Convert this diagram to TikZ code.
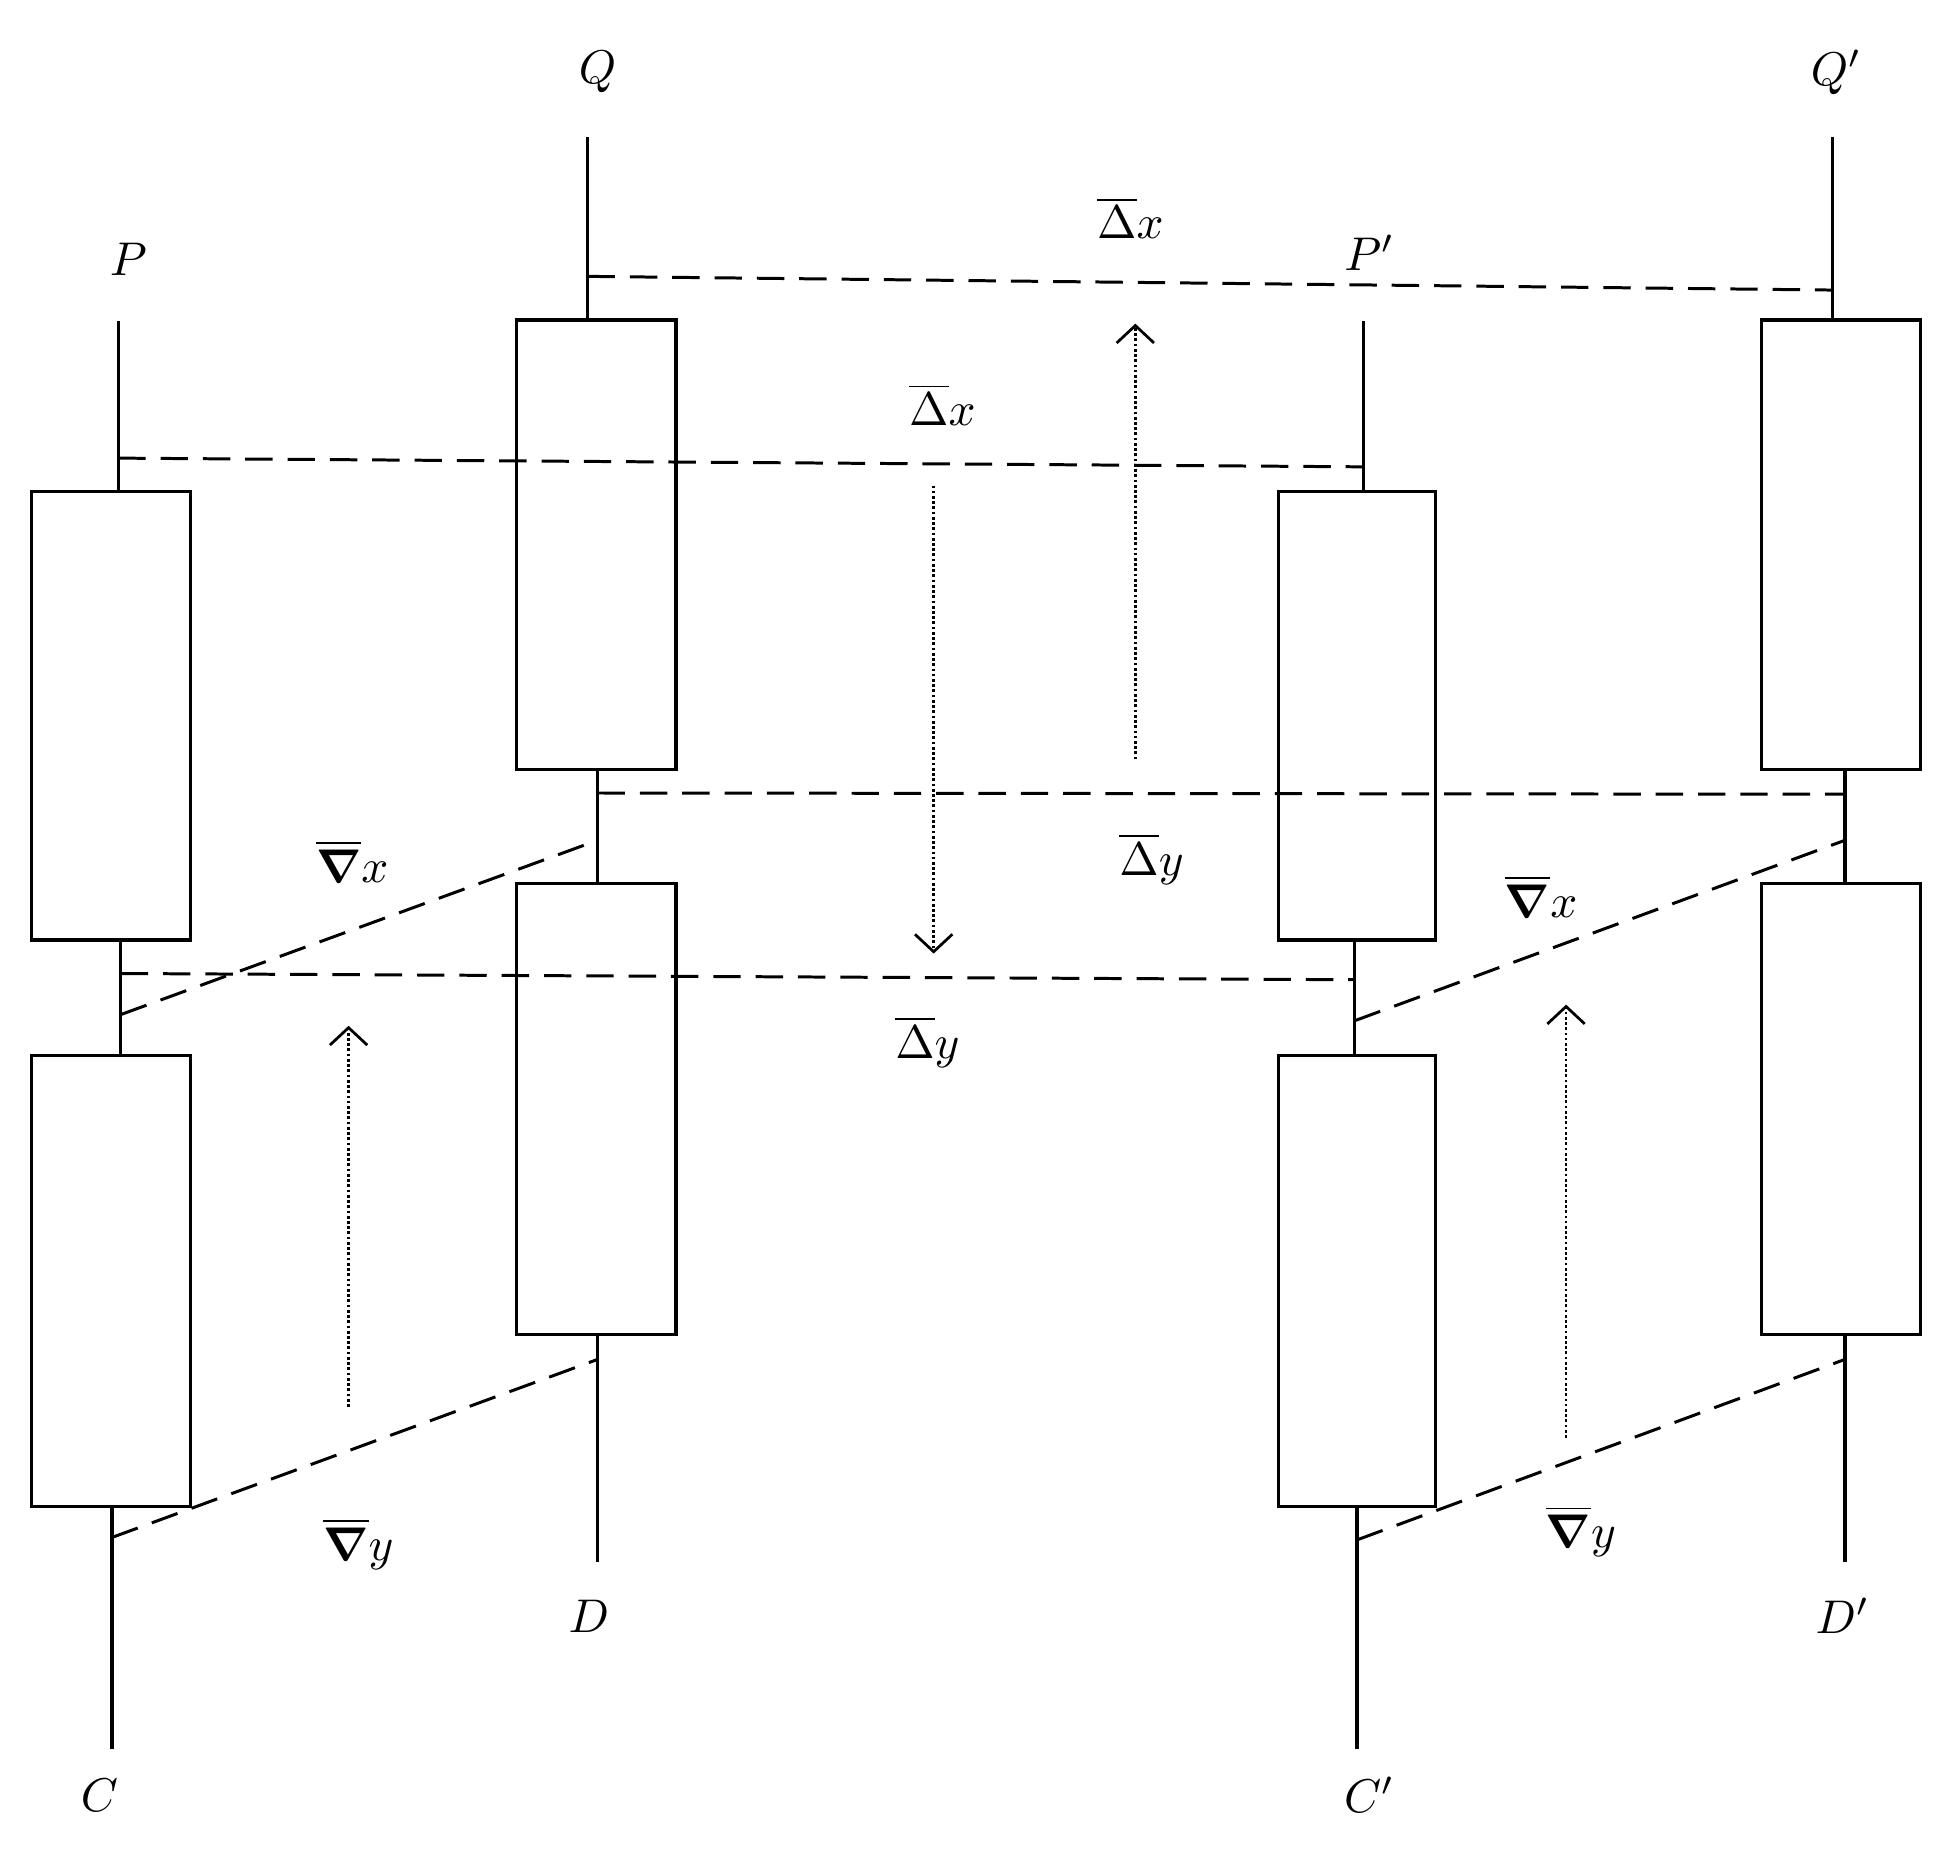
\documentclass[tikz,border=0pt]{standalone}
\usepackage{amsmath,bm,graphicx}
\usetikzlibrary{arrows.meta}
\begin{document}
\begin{tikzpicture}[x=1pt,y=-1pt,line width=2.6pt,
  box/.style={draw,line width=2.6pt},
  dsh/.style={dash pattern=on 22pt off 12pt,line width=2.4pt},
  dot/.style={dotted,line width=2.2pt,-{Straight Barb[length=14pt,width=30pt,line width=2.2pt]}},
  lab/.style={inner sep=0pt}]
\useasboundingbox (0,0) rectangle (1560,1500);
\def\L#1{\scalebox{3.8}{#1}}
% left column P/C
\draw (95,258)--(95,395);
\draw[box] (25,395) rectangle (153,755);
\draw (97,755)--(97,848);
\draw[box] (25,848) rectangle (153,1210);
\draw (90,1210)--(90,1405);
% Q/D
\draw (472,110)--(472,257);
\draw[box] (415,257) rectangle (543,618);
\draw (480,618)--(480,710);
\draw[box] (415,710) rectangle (543,1072);
\draw (480,1072)--(480,1255);
% P'/C'
\draw (1095,258)--(1095,395);
\draw[box] (1027,395) rectangle (1153,755);
\draw (1088,755)--(1088,848);
\draw[box] (1027,848) rectangle (1153,1210);
\draw (1090,1210)--(1090,1405);
% Q'/D'
\draw (1472,110)--(1472,257);
\draw[box] (1415,257) rectangle (1543,618);
\draw (1482,618)--(1482,710);
\draw[box] (1415,710) rectangle (1543,1072);
\draw (1482,1072)--(1482,1255);
% dashed
\draw[dsh] (472,222)--(1472,233);
\draw[dsh] (95,368)--(1095,375);
\draw[dsh] (480,637)--(1482,638);
\draw[dsh] (97,782)--(1088,787);
\draw[dsh] (97,815)--(480,675);
\draw[dsh] (1088,820)--(1482,675);
\draw[dsh] (90,1235)--(480,1092);
\draw[dsh] (1090,1237)--(1482,1092);
% dotted arrows
\draw[dot] (912,610)--(912,260);
\draw[dot] (750,390)--(750,766);
\draw[dot] (280,1130)--(280,824);
\draw[dot] (1258,1155)--(1258,807);
% labels
\node[lab] (P) at (103,208) {\L{$P$}};
\node[lab] (C) at (80,1442) {\L{$C$}};
\node[lab] (Q) at (480,58) {\L{$Q$}};
\node[lab] (D) at (473,1298) {\L{$D$}};
\node[lab] (Pp) at (1100,203) {\L{$P'$}};
\node[lab] (Cp) at (1100,1442) {\L{$C'$}};
\node[lab] (Qp) at (1475,58) {\L{$Q'$}};
\node[lab] (Dp) at (1480,1298) {\L{$D'$}};
\node[lab] (dx1) at (908,175) {\L{$\overline{\Delta}x$}};
\node[lab] (dx2) at (757,325) {\L{$\overline{\Delta}x$}};
\node[lab] (dy1) at (925,690) {\L{$\overline{\Delta}y$}};
\node[lab] (dy2) at (745,837) {\L{$\overline{\Delta}y$}};
\node[lab] (nx1) at (283,692) {\L{$\overline{\bm\nabla}x$}};
\node[lab] (nx2) at (1238,720) {\L{$\overline{\bm\nabla}x$}};
\node[lab] (ny1) at (288,1240) {\L{$\overline{\bm\nabla}y$}};
\node[lab] (ny2) at (1270,1230) {\L{$\overline{\bm\nabla}y$}};
\end{tikzpicture}
\end{document}
